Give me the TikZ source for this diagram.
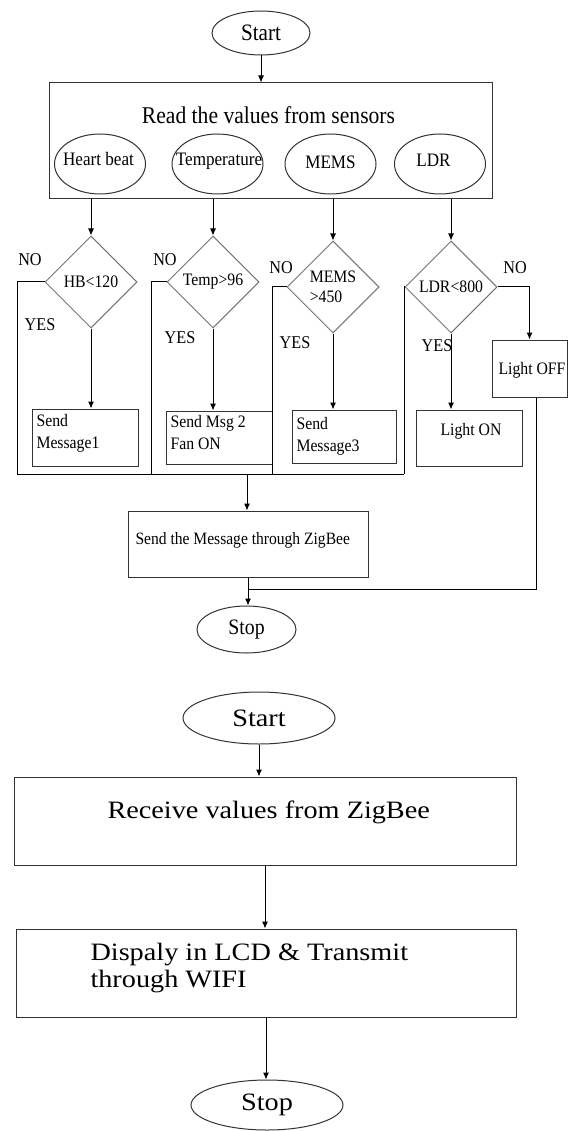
\documentclass[tikz,border=0pt]{standalone}
\usepackage{fontspec}
\setmainfont{Liberation Serif}[FakeStretch=0.9]
\newfontfamily\wideserif{Liberation Serif}[FakeStretch=1.13]
\usetikzlibrary{shapes.geometric, arrows.meta}

\begin{document}
\begin{tikzpicture}[x=1pt, y=-1pt, line width=1pt, >={Latex[length=7pt,width=6pt]},
			term/.style  = {draw, ellipse, black!80, text=black, inner sep=0pt},
			sensor/.style = {term, minimum width=91pt, minimum height=60pt},
			block/.style = {draw, rectangle, black!80, text=black, inner sep=0pt},
			cond/.style  = {draw, diamond, black!55, text=black, inner sep=0pt, minimum width=92pt, minimum height=92pt, align=left, font=\fontsize{17.5}{20}\selectfont},
			txt/.style   = {inner sep=0pt, align=left, font=\fontsize{17.5}{22}\selectfont},
			yn/.style    = {inner sep=0pt, font=\fontsize{18}{20}\selectfont},
			big/.style   = {inner sep=0pt, align=left, font=\wideserif\fontsize{25}{27}\selectfont},]

			\useasboundingbox (0,0) rectangle (568,1131);

			%% FIRST CHART: SENSOR SIDE
			\node[term, minimum width=98pt, minimum height=44pt, font=\fontsize{23.5}{26}\selectfont] (start1) at (261,33) {Start};
			\node[block, minimum width=443pt, minimum height=116pt] (read) at (270.5,141) {};
			\node[inner sep=0pt, anchor=base, font=\fontsize{24}{26}\selectfont] (readtxt) at (268.5,124) {Read the values from sensors};
			\draw[->] (start1.south) -- (start1.south |- read.north);

			% sensors
			\node[sensor] (hb) at (100,164) {};
			\node[sensor] (tp) at (217.5,164) {};
			\node[sensor] (mm) at (330.5,164) {};
			\node[sensor] (ld) at (440,164) {};
			\node[inner sep=0pt, anchor=base, font=\fontsize{19}{20}\selectfont] (hbtxt) at (98.5,166) {Heart beat};
			\node[inner sep=0pt, anchor=base, font=\fontsize{19}{20}\selectfont] (tptxt) at (219,166) {Temperature};
			\node[inner sep=0pt, anchor=base, font=\fontsize{19}{20}\selectfont] (mmtxt) at (330.5,169) {MEMS};
			\node[inner sep=0pt, anchor=base, font=\fontsize{19}{20}\selectfont] (ldtxt) at (433.5,167) {LDR};

			% conditions
			\node[cond] (hbc) at (91,282) {HB<120};
			\node[cond] (tpc) at (213,282) {Temp>96};
			\node[cond] (mmc) at (333,287) {MEMS\\>450};
			\node[cond] (ldc) at (451,287) {LDR<800};
			\draw[->] (hbc.north |- read.south) -- (hbc.north);
			\draw[->] (tpc.north |- read.south) -- (tpc.north);
			\draw[->] (mmc.north |- read.south) -- (mmc.north);
			\draw[->] (ldc.north |- read.south) -- (ldc.north);

			% actions
			\node[block, minimum width=106pt, minimum height=57pt] (msg1) at (85,437.5) {};
			\node[block, minimum width=106pt, minimum height=53pt] (msg2) at (219,437.5) {};
			\node[block, minimum width=104pt, minimum height=53pt] (msg3) at (344,436.5) {};
			\node[block, minimum width=106pt, minimum height=56pt] (lon) at (469,438) {};
			\node[block, minimum width=75pt, minimum height=57pt] (loff) at (529.5,368.5) {};
			\node[txt, anchor=north west] (msg1txt) at (36,414) {Send\\Message1};
			\node[txt, anchor=north west] (msg2txt) at (170,415) {Send Msg 2\\Fan ON};
			\node[txt, anchor=north west] (msg3txt) at (296,417) {Send\\Message3};
			\node[txt] (lontxt) at (471,431) {Light ON};
			\node[txt] (lofftxt) at (532,370) {Light OFF};

			\draw[->] (hbc.south) -- (hbc.south |- msg1.north);
			\draw[->] (tpc.south) -- (tpc.south |- msg2.north);
			\draw[->] (mmc.south) -- (mmc.south |- msg3.north);
			\draw[->] (ldc.south) -- (ldc.south |- lon.north);
			\draw[->] (ldc.east) -| (loff.north);

			%% NO BRANCHES AND JOIN LINE
			\coordinate (jl) at (17,474);
			\coordinate (jr) at (404,474);
			\coordinate (jm) at (247,474);
			\draw (hbc.west) -| (jl) -- (jr);
			\draw (tpc.west) -- ++(-15,0) coordinate (tpno) -- (tpno |- jl);
			\draw (mmc.west) -- ++(-14,0) coordinate (mmno) -- (mmno |- jl);
			\draw (ldc.west) -| (jr);

			\node[yn] (hbn) at (30,260) {NO};
			\node[yn] (hby) at (40,325) {YES};
			\node[yn] (tpn) at (165,260) {NO};
			\node[yn] (tpy) at (180,338) {YES};
			\node[yn] (mmn) at (281,268) {NO};
			\node[yn] (mmy) at (295,343) {YES};
			\node[yn] (ldn) at (515,268) {NO};
			\node[yn] (ldy) at (437,346) {YES};

			%% SEND AND STOP
			\node[block, minimum width=240pt, minimum height=66pt] (zb) at (248,544) {};
			\node[inner sep=0pt, anchor=west, font=\fontsize{17.3}{20}\selectfont] (zbtxt) at (135,540) {Send the Message through ZigBee};
			\node[term, minimum width=99pt, minimum height=47pt, font=\fontsize{22}{24}\selectfont] (stop1) at (246.5,629.5) {Stop};
			\draw[->] (jm) -- (jm |- zb.north);
			\draw[->] (zb.south) -- (zb.south |- stop1.north);
			\coordinate (offdn) at (536,589);
			\draw (offdn |- loff.south) -- (offdn) -- (offdn -| zb.south);

			%% SECOND CHART: RECEIVER SIDE
			\node[term, minimum width=152pt, minimum height=52pt, font=\wideserif\fontsize{25}{27}\selectfont] (start2) at (259,718) {Start};
			\node[block, minimum width=502pt, minimum height=88pt] (recv) at (265,821) {};
			\node[big, anchor=base west] (recvtxt) at (107,818) {Receive values from ZigBee};
			\node[block, minimum width=500pt, minimum height=88pt] (disp) at (266,973) {};
			\node[big, anchor=north west] (disptxt) at (90,943) {Dispaly in LCD \& Transmit\\through WIFI};
			\node[term, minimum width=152pt, minimum height=50pt, font=\wideserif\fontsize{25}{27}\selectfont] (stop2) at (267,1105) {Stop};
			\draw[->] (start2.south) -- (start2.south |- recv.north);
			\draw[->] (recv.south) -- (recv.south |- disp.north);
			\draw[->] (disp.south) -- (disp.south |- stop2.north);
\end{tikzpicture}
\end{document}
